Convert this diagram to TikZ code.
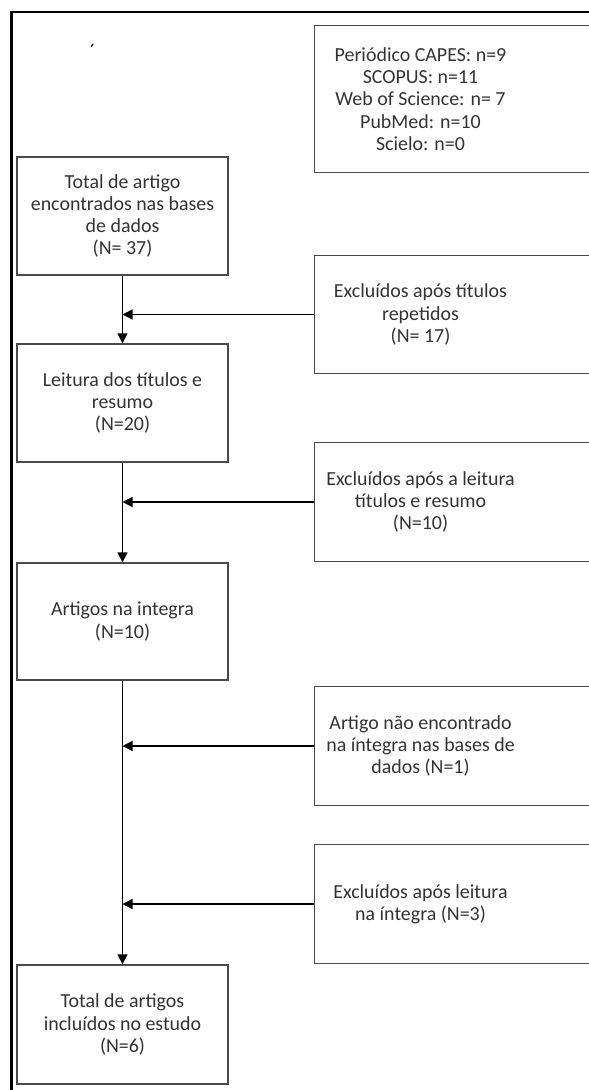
\documentclass[tikz,border=0pt]{standalone}
\usepackage{fontspec}
\setmainfont{Carlito}
\usetikzlibrary{arrows.meta}

\definecolor{boxgray}{HTML}{4A4A4A}
\definecolor{textgray}{HTML}{333333}

\begin{document}
\begin{tikzpicture}[x=1bp,y=-1bp,line width=1.3bp,>={Triangle[length=10bp,width=10bp]},
  box/.style={draw=boxgray,line width=1.3bp,minimum width=211bp,minimum height=118bp,
    inner sep=0pt,align=center,text=textgray,font=\fontsize{20}{22.3}\selectfont},
  sidetext/.style={box,draw=none},
  flow/.style={->,black,line width=1.3bp}]
  \useasboundingbox (0,0) rectangle (589,1090);
  \clip (0,0) rectangle (589,1090);
  % moldura
  \draw[line width=2.6bp] (11.5,1100) -- (11.5,12) -- (600,12);
  \draw[line width=1.2bp] (91.2,46.8) -- (93,44);
  % caixas da esquerda
  \node[box] (total) at (122.5,216) {Total de artigo\\encontrados nas bases\\de dados\\(N= 37)};
  \node[box] (leitura) at (122.5,403) {Leitura dos títulos e\\resumo\\(N=20)};
  \node[box,minimum height=117bp] (integra) at (122.5,621.5) {Artigos na integra\\(N=10)};
  \node[box,minimum height=119bp] (final) at (122.5,1024.5) {Total de artigos\\incluídos no estudo\\(N=6)};
  % caixas da direita (cortadas na margem)
  \node[sidetext,minimum height=146bp] (bases) at (420.5,99) {Periódico CAPES: n=9\\SCOPUS: n=11\\Web of Science: n= 7\\PubMed: n=10\\Scielo: n=0};
  \node[sidetext,minimum height=117bp] (excl1) at (420.5,314.5) {Excluídos após títulos\\repetidos\\(N= 17)};
  \node[sidetext] (excl2) at (420.5,502) {Excluídos após a leitura\\títulos e resumo\\(N=10)};
  \node[sidetext] (excl3) at (420.5,746) {Artigo não encontrado\\na íntegra nas bases de\\dados (N=1)};
  \node[sidetext] (excl4) at (420.5,904) {Excluídos após leitura\\na íntegra (N=3)};
  \foreach \n in {bases,excl1,excl2,excl3,excl4}
    \draw[boxgray,line width=1.3bp] (\n.south west) rectangle ([xshift=100bp]\n.north east);
  % fluxo principal
  \draw[flow] (total) -- (leitura);
  \draw[flow] (leitura) -- (integra);
  \draw[flow] (integra) -- (final);
  % exclusoes
  \foreach \n in {excl1,excl2,excl3,excl4}
    \draw[flow] (\n.west) -- (\n.west -| total.south);
\end{tikzpicture}
\end{document}
